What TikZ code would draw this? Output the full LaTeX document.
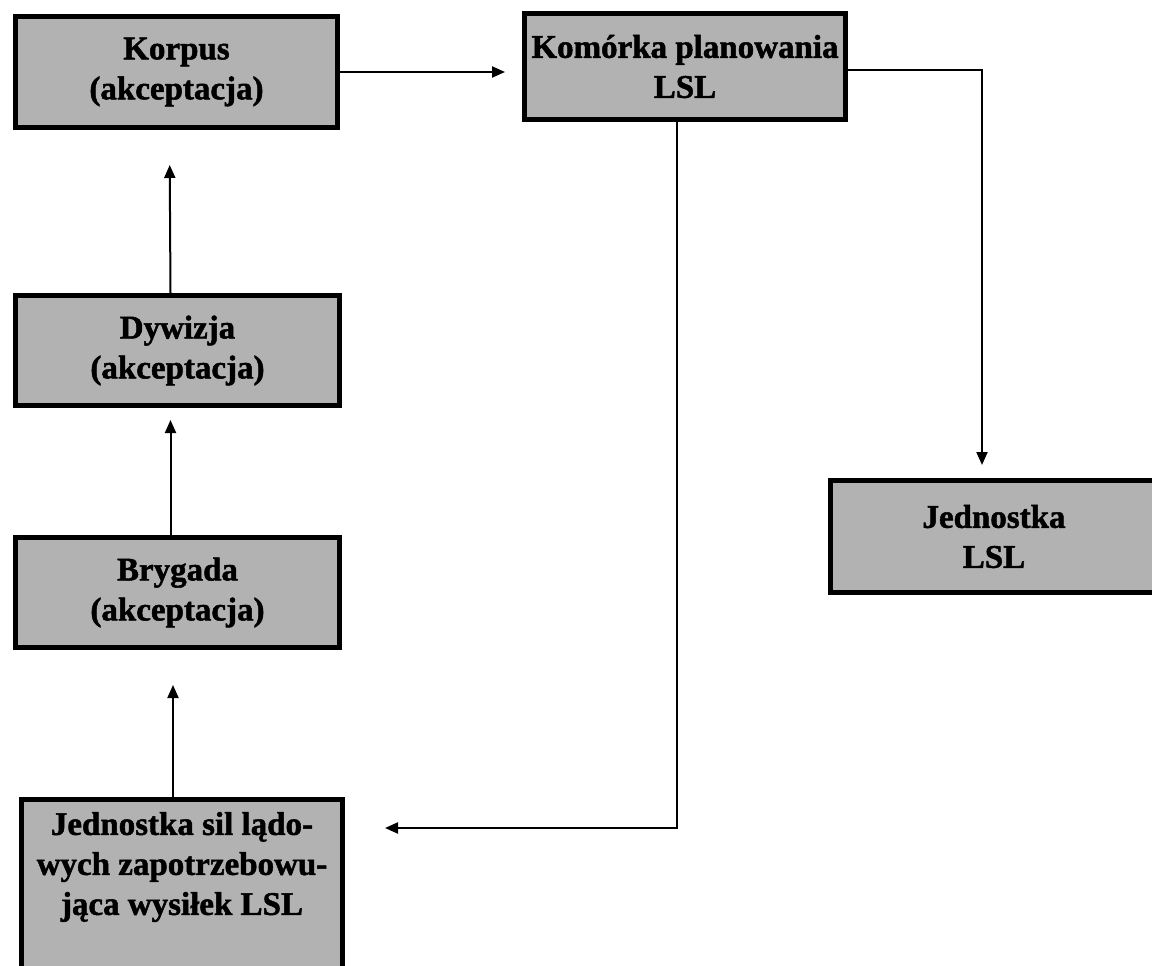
\documentclass[tikz,border=0pt]{standalone}
\usepackage{fontspec}
\setmainfont{Liberation Serif}[BoldFeatures={FakeBold=1.5}]
\usetikzlibrary{arrows.meta}
\begin{document}
\begin{tikzpicture}[x=1pt,y=-1pt,
  unitbox/.style={draw=black, line width=5pt, fill=black!30, inner sep=0pt,
    align=center, font=\bfseries\fontsize{33}{40}\selectfont},
  boxtext/.style={inner sep=0pt, align=center, font=\bfseries\fontsize{33}{40}\selectfont},
  link/.style={draw=black, line width=2pt},
  arr/.style={link, -{Triangle[length=13pt,width=11pt]}}]
\useasboundingbox (0,0) rectangle (1152,966);
\clip (0,0) rectangle (1152,966);
\fill[white] (0,0) rectangle (1152,966);

% command chain on the left
\node[unitbox, minimum width=322pt, minimum height=111pt] (korpus) at (176.5,72) {Korpus\\(akceptacja)};
\node[unitbox, minimum width=324pt, minimum height=110pt] (dywizja) at (177.5,350.5) {Dywizja\\(akceptacja)};
\node[unitbox, minimum width=324pt, minimum height=110pt] (brygada) at (177.5,592.5) {Brygada\\(akceptacja)};
\node[unitbox, minimum width=321pt, minimum height=198pt] (jsl) at (182,898.5) {};
\node[boxtext] (jsltext) at (182,867) {Jednostka sil lądo-\\wych zapotrzebowu-\\jąca wysiłek LSL};

% planning cell and executing unit
\node[unitbox, minimum width=321pt, minimum height=106pt] (komorka) at (685,66.5) {Komórka planowania\\LSL};
\node[unitbox, minimum width=327pt, minimum height=112pt] (jlsl) at (994,536.5) {Jednostka\\LSL};

% approvals upward
\draw[arr, shorten >=35pt] ([xshift=-7pt]dywizja.north) -- ([xshift=-7pt]korpus.south);
\draw[arr, shorten >=12pt] ([xshift=-7pt]brygada.north) -- ([xshift=-7pt]dywizja.south);
\draw[arr, shorten >=35pt] ([xshift=-9pt]jsl.north) -- ([xshift=-4.5pt]brygada.south);

% request to planning cell
\draw[arr, shorten >=17pt] (korpus.east |- 0,72) -- (komorka.west |- 0,72);

% tasking to the LSL unit
\draw[arr, shorten >=13pt] (komorka.east |- 0,70) -| ([xshift=-12pt]jlsl.north);

% feedback to the requesting unit
\coordinate (turn) at (677,828);
\draw[arr, shorten >=40pt] (komorka.south -| turn) -- (turn) -- (jsl.east |- turn);
\end{tikzpicture}
\end{document}
